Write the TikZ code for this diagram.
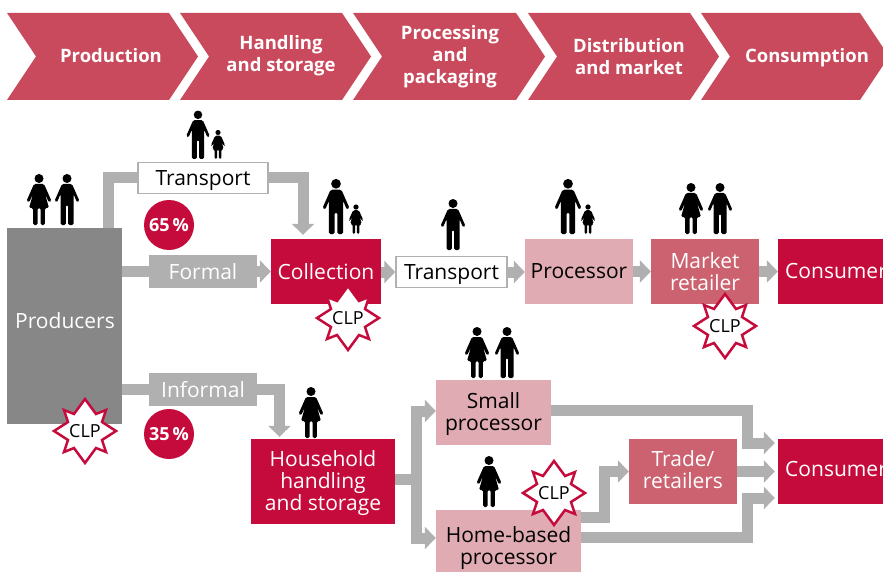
\documentclass[tikz,border=0pt]{standalone}
\usepackage{fontspec}
\setmainfont{Open Sans}
\usetikzlibrary{arrows.meta}
\definecolor{chevronRed}{HTML}{C94A5C}
\definecolor{deepRed}{HTML}{C50B3B}
\definecolor{midRed}{HTML}{CC626F}
\definecolor{paleRed}{HTML}{E0ABB2}
\definecolor{flowGray}{HTML}{B0B0B0}
\definecolor{boxGray}{HTML}{878787}
\newcommand{\bigtext}{\fontsize{21}{22}\selectfont}
\tikzset{
  flow/.style={line width=11pt,flowGray,line join=miter},
  flowTip/.style={flow,-{Triangle[length=11pt,width=22pt]}},
  box/.style={minimum width=108pt,minimum height=65pt,inner sep=0pt,align=center,font=\bigtext},
  deepBox/.style={box,fill=deepRed,text=white},
  midBox/.style={box,fill=midRed,text=white},
  paleBox/.style={box,fill=paleRed,text=black},
  grayBox/.style={box,fill=flowGray,text=white,minimum height=33pt},
  whiteBox/.style={box,fill=white,draw=flowGray,line width=1.5pt,text=black,minimum height=31pt,text depth=0pt},
  boxText/.style={inner sep=0pt,align=center,font=\bigtext},
  share/.style={circle,fill=deepRed,text=white,minimum size=50pt,inner sep=0pt,font=\fontsize{18}{20}\selectfont\bfseries},
  stage/.style={text=white,align=center,font=\fontsize{18.5}{22}\selectfont\bfseries},
  man/.pic={
    \fill (0,-46.5) circle (4.5);
    \fill[rounded corners=1.5pt] (-5,-41) -- (5,-41) -- (12.5,-24) -- (10,-22.5) -- (6.5,-31) -- (6.5,0) -- (1.2,0) -- (1.2,-20) -- (-1.2,-20) -- (-1.2,0) -- (-6.5,0) -- (-6.5,-31) -- (-10,-22.5) -- (-12.5,-24) -- cycle;
  },
  woman/.pic={
    \fill (0,-46.5) circle (4.5);
    \fill[rounded corners=1.5pt] (-5,-41) -- (5,-41) -- (12.5,-24) -- (10,-22.5) -- (6,-31) -- (10,-17) -- (5.8,-17) -- (5.8,0) -- (1.5,0) -- (1.5,-17) -- (-1.5,-17) -- (-1.5,0) -- (-5.8,0) -- (-5.8,-17) -- (-10,-17) -- (-6,-31) -- (-10,-22.5) -- (-12.5,-24) -- cycle;
  },
  clpStar/.pic={
    \draw[deepRed,fill=white,line width=2.5pt,miter limit=10] (0,-32) -- (11,-17) -- (21,-21) -- (17,-9) -- (31,0) -- (17,9) -- (21,21) -- (11,17) -- (0,32) -- (-11,17) -- (-21,21) -- (-17,9) -- (-31,0) -- (-17,-9) -- (-21,-21) -- (-11,-17) -- cycle;
    \node[font=\fontsize{18}{18}\selectfont,text=black,inner sep=0pt] (label) at (0,0) {CLP};
  },
}
\begin{document}
\begin{tikzpicture}[x=1pt,y=-1pt]
  \useasboundingbox (0,0) rectangle (883,572);
  % value chain
  \foreach \l/\r in {7/169,180/342,353/516,528/690,701/860}
    \fill[chevronRed] (\l,13) -- (\r,13) -- ({\r+29},56.5) -- (\r,100) -- (\l,100) -- ({\l+29},56.5) -- cycle;
  \node[stage] (production) at (111,56) {Production};
  \node[stage] (handling) at (281,56) {Handling\\and storage};
  \node[stage] (processing) at (450,57) {Processing\\and\\packaging};
  \node[stage] (distribution) at (629,57) {Distribution\\and market};
  \node[stage] (consumption) at (807,58) {Consumption};
  %
  \node[box,fill=boxGray,minimum width=115pt,minimum height=196pt] (producers) at (64.5,326) {};
  \node[boxText,text=white] (producersText) at (65,321) {Producers};
  \node[whiteBox,minimum width=130pt] (transportTop) at (203,178) {Transport};
  \node[grayBox] (formal) at (203,271.5) {Formal};
  \node[grayBox] (informal) at (203,389.5) {Informal};
  \node[deepBox,minimum width=110pt] (collection) at (326,271.5) {Collection};
  \node[whiteBox,minimum width=111pt] (transportMid) at (451.5,272) {Transport};
  \node[paleBox] (processor) at (579,271.5) {Processor};
  \node[midBox] (market) at (705,271.5) {Market\\retailer};
  \node[deepBox,minimum width=110pt] (consumerTop) at (833,271.5) {};
  \node[boxText,anchor=west,text=white] (consumerTopText) at (785,271) {Consumer};
  \node[deepBox,minimum width=144pt,minimum height=85pt] (household) at (323,481.5) {};
  \node[boxText,text=white] (householdText) at (323,483.5) {Household\\handling\\and storage};
  \node[paleBox,minimum width=115pt] (small) at (493.5,412.5) {};
  \node[boxText] (smallText) at (493.5,414.5) {Small\\processor};
  \node[paleBox,minimum width=145pt,minimum height=62pt] (home) at (508.5,541) {};
  \node[boxText] (homeText) at (508.5,548) {Home-based\\processor};
  \node[midBox] (trade) at (683,471.5) {};
  \node[boxText,text=white] (tradeText) at (683,469.5) {Trade/\\retailers};
  \node[deepBox,minimum width=110pt] (consumerLow) at (833,471.5) {};
  \node[boxText,anchor=west,text=white] (consumerLowText) at (785,469) {Consumer};
  \node[share] (shareFormal) at (169,225) {65\,\%};
  \node[share] (shareInformal) at (169,434) {35\,\%};
  %
  \coordinate (topLeft) at (108.5,178);
  \coordinate (topRight) at (303,178);
  \coordinate (infoBend) at (279.5,389.5);
  \coordinate (split) at (416,479);
  \coordinate (smallBend) at (747,410);
  \coordinate (homeBend) at (747,537);
  \coordinate (tradeBend) at (604,517);
  \draw[flow] (topLeft |- producers.north) -- (topLeft) -- (transportTop.west);
  \draw[flowTip,shorten >=4pt] (transportTop.east) -- (topRight) -- (topRight |- collection.north);
  \draw[flow] (producers.east |- formal) -- (formal);
  \draw[flowTip] (formal) -- (collection);
  \draw[flowTip] (collection.east |- transportMid) -- (transportMid);
  \draw[flowTip] (transportMid) -- (processor.west |- transportMid);
  \draw[flowTip] (processor) -- (market);
  \draw[flowTip] (market) -- (consumerTop);
  \draw[flow] (producers.east |- informal) -- (informal);
  \draw[flowTip,shorten >=2pt] (informal) -- (infoBend) -- (infoBend |- household.north);
  \draw[flow] (household.east |- split) -- (split);
  \draw[flowTip] (split) -- (split |- 0,411) -- (small.west |- 0,411);
  \draw[flowTip] (split) -- (split |- 0,538) -- (home.west |- 0,538);
  \draw[flowTip,shorten >=3pt] (small.east |- smallBend) -- (smallBend) -- (smallBend |- 0,443) -- (consumerLow.west |- 0,443);
  \draw[flowTip,shorten >=3pt] (trade) -- (consumerLow.west |- trade);
  \draw[flowTip,shorten >=3pt] (home.east |- homeBend) -- (homeBend) -- (homeBend |- 0,498) -- (consumerLow.west |- 0,498);
  \draw[flowTip] (home.east |- tradeBend) -- (tradeBend) -- (tradeBend |- trade) -- (trade);
  % people
  \pic at (39,225) {woman};
  \pic at (67,225) {man};
  \pic[scale=.95] at (198,159) {man};
  \pic[scale=.57] at (218,159) {woman};
  \pic[scale=1.08] at (336,234) {man};
  \pic[scale=.58] at (356,234) {woman};
  \pic at (453,250) {man};
  \pic[scale=1.08] at (568,234) {man};
  \pic[scale=.58] at (588,234) {woman};
  \pic at (691,234) {woman};
  \pic at (720,234) {man};
  \pic at (477,378) {woman};
  \pic at (507,378) {man};
  \pic at (489,507) {woman};
  \pic at (311,438) {woman};
  %
  \pic (clpCollection) at (348,318) {clpStar};
  \pic (clpMarket) at (725,326) {clpStar};
  \pic (clpProducers) at (85,431) {clpStar};
  \pic (clpHome) at (554,493) {clpStar};
\end{tikzpicture}
\end{document}
